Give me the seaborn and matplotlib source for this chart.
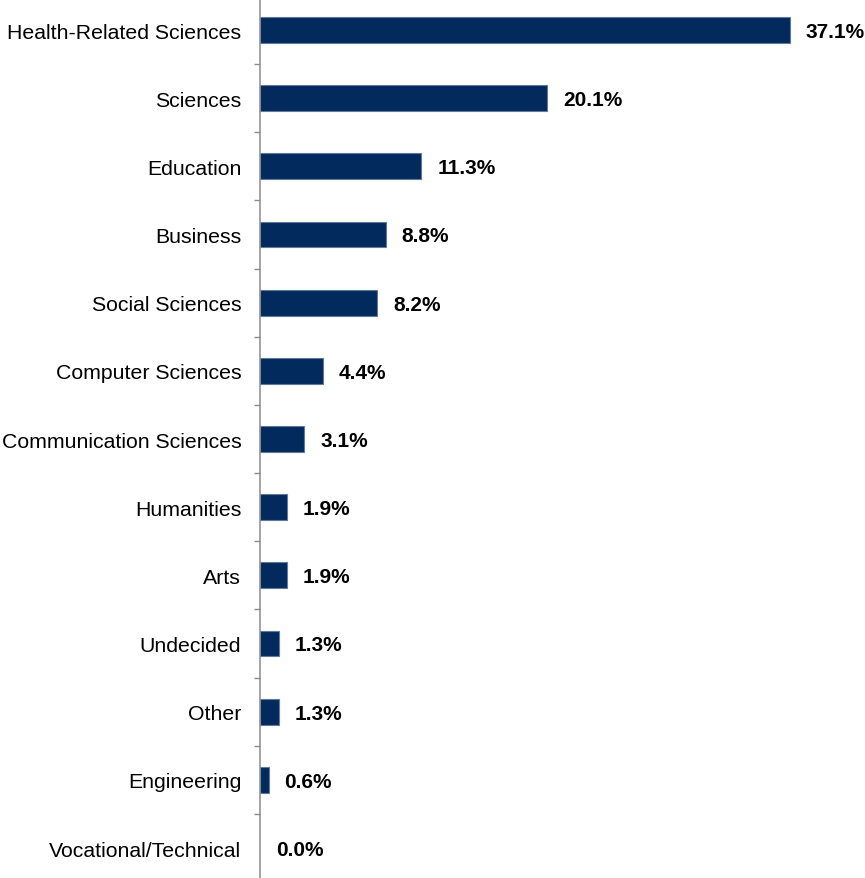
import matplotlib
matplotlib.use("Agg")
import matplotlib.pyplot as plt
from matplotlib.ticker import FixedLocator
import seaborn as sns
import pandas as pd

majors = [
    "Health-Related Sciences", "Sciences", "Education", "Business",
    "Social Sciences", "Computer Sciences", "Communication Sciences",
    "Humanities", "Arts", "Undecided", "Other", "Engineering",
    "Vocational/Technical",
]
shares = [37.1, 20.1, 11.3, 8.8, 8.2, 4.4, 3.1, 1.9, 1.9, 1.3, 1.3, 0.6, 0.0]

df = pd.DataFrame({"major": majors, "share": shares})

sns.set_style("white")
plt.rcParams["font.family"] = ["Liberation Sans", "DejaVu Sans"]

fig = plt.figure(figsize=(8.65, 8.79), dpi=100)
ax = fig.add_axes([260 / 865, 0, 605 / 865, 1])

sns.barplot(data=df, x="share", y="major", orient="h", color="#022a5c",
            width=0.38, edgecolor="#5f7a9e", linewidth=0.8, saturation=1,
            ax=ax)

# no outline on empty bars
for patch, v in zip(ax.patches, shares):
    if v == 0:
        patch.set_linewidth(0)

for i, v in enumerate(shares):
    ax.annotate(f"{v:.1f}%", xy=(v, i), xytext=(11.5, -1),
                textcoords="offset points", ha="left", va="center",
                fontsize=15, fontweight="bold", color="black")

ax.set_xlim(0, 42.35)
ax.set_ylim(12.44, -0.455)
ax.set_xlabel("")
ax.set_ylabel("")
ax.set_xticks([])

for side in ("top", "right", "bottom"):
    ax.spines[side].set_visible(False)
ax.spines["left"].set_color("#8c8c8c")
ax.spines["left"].set_linewidth(1.1)

ax.yaxis.set_minor_locator(FixedLocator([i + 0.5 for i in range(-1, len(majors))]))
ax.tick_params(axis="y", which="major", length=0, pad=13.5, labelsize=15.3,
               labelcolor="black")
ax.tick_params(axis="y", which="minor", length=4.3, width=1.0, color="#8c8c8c",
               direction="out", left=True)

fig.savefig("out.png", dpi=100)
